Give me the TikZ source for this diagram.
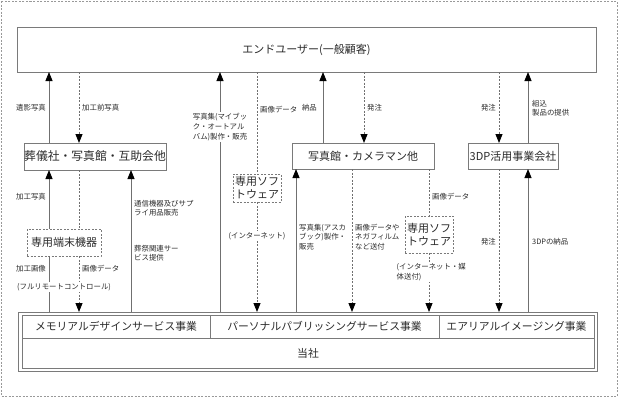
\documentclass[tikz,border=0pt]{standalone}
\usepackage{fontspec}
\setmainfont{Noto Sans CJK JP}
\usetikzlibrary{arrows.meta}
\definecolor{lin}{HTML}{707070}
\definecolor{brd}{HTML}{7A7A7A}
\definecolor{txt}{HTML}{2A2A2A}
\tikzset{
  box/.style={draw=brd, line width=0.9pt, inner sep=0pt, outer sep=0pt, text=txt, align=center},
  dbox/.style={box, dash pattern=on 2pt off 1.5pt},
  sline/.style={draw=lin, line width=0.9pt},
  dline/.style={draw=lin, line width=0.9pt, dash pattern=on 2pt off 1.5pt},
  tip/.style={-{Triangle[length=9pt,width=7pt,color=black]}},
  lab/.style={font=\fontsize{7.4}{9.6}\selectfont, inner sep=1pt, text=txt, align=left},
  wlab/.style={lab, fill=white, inner sep=1.5pt},
  big/.style={font=\fontsize{11.8}{14}\selectfont},
  mid/.style={font=\fontsize{11}{13}\selectfont},
  cell/.style={draw=brd, line width=0.8pt, inner sep=0pt, outer sep=0pt, text=txt, font=\fontsize{10.8}{12}\selectfont}
}
\begin{document}
\begin{tikzpicture}[x=1pt,y=-1pt]
\useasboundingbox (0,0) rectangle (620,397);
\draw[draw=gray!80, line width=0.6pt, dash pattern=on 2pt off 1.5pt] (1,1) rectangle (617,396);

% main nodes
\node[box, mid, minimum width=579pt, minimum height=45pt] (eu) at (306.5,49.5) {エンドユーザー(一般顧客)};
\node[box, big, minimum width=142pt, minimum height=27pt] (sog) at (95,156.5) {葬儀社・写真館・互助会他};
\node[box, mid, minimum width=142pt, minimum height=26pt] (sha) at (363,156) {写真館・カメラマン他};
\node[box, mid, minimum width=90pt, minimum height=26pt] (tdp) at (513,156) {3DP活用事業会社};
\node[dbox, mid, minimum width=74pt, minimum height=27pt] (tan) at (64,242.5) {専用端末機器};
\node[dbox, mid, minimum width=48pt, minimum height=28pt] (sf1) at (257,188) {専用ソフ\\トウェア};
\node[dbox, mid, minimum width=48pt, minimum height=37pt] (sf2) at (429,234.5) {専用ソフ\\トウェア};

% bottom company box
\node[box, minimum width=579pt, minimum height=59pt] (bot) at (307.5,341.5) {};
\node[cell, minimum width=188pt, minimum height=23pt] (m1) at (116,326.5) {メモリアルデザインサービス事業};
\node[cell, minimum width=229pt, minimum height=23pt] (m2) at (324.5,326.5) {パーソナルパブリッシングサービス事業};
\node[cell, minimum width=155pt, minimum height=23pt] (m3) at (516.5,326.5) {エアリアルイメージング事業};
\node[cell, minimum width=572pt, minimum height=30pt] (tosha) at (308,353) {当社};

% column coordinates
\foreach \n/\x in {49/49,79/79,131/131,220/220,257/257,296/296,323/323,352/352,364/364,429/429,499/499,528/528}
  \coordinate (c\n) at (\x,0);

% connectors
\draw[sline, tip] (c49 |- sog.north) -- (c49 |- eu.south);
\draw[dline, tip] (c79 |- eu.south) -- (c79 |- sog.north);
\draw[sline, tip] (c220 |- bot.north) -- (c220 |- eu.south);
\draw[dline] (c257 |- eu.south) -- (c257 |- sf1.north);
\draw[dline, tip] (c257 |- sf1.south) -- (c257 |- bot.north);
\draw[sline, tip] (c323 |- sha.north) -- (c323 |- eu.south);
\draw[dline, tip] (c364 |- eu.south) -- (c364 |- sha.north);
\draw[dline, tip] (c499 |- eu.south) -- (c499 |- tdp.north);
\draw[sline, tip] (c528 |- tdp.north) -- (c528 |- eu.south);
\draw[sline, tip] (c49 |- tan.north) -- (c49 |- sog.south);
\draw[dline] (c79 |- sog.south) -- (c79 |- tan.north);
\draw[sline] (c49 |- bot.north) -- (c49 |- tan.south);
\draw[dline, tip] (c79 |- tan.south) -- (c79 |- bot.north);
\draw[sline, tip] (c131 |- bot.north) -- (c131 |- sog.south);
\draw[sline, tip] (c296 |- bot.north) -- (c296 |- sha.south);
\draw[dline, tip] (c352 |- sha.south) -- (c352 |- bot.north);
\draw[dline] (c429 |- sha.south) -- (c429 |- sf2.north);
\draw[dline, tip] (c429 |- sf2.south) -- (c429 |- bot.north);
\draw[dline, tip] (c499 |- tdp.south) -- (c499 |- bot.north);
\draw[sline, tip] (c528 |- bot.north) -- (c528 |- tdp.south);

% labels
\node[lab, anchor=east] (l1) at (47,108) {遺影写真};
\node[lab, anchor=west] (l2) at (81,108) {加工前写真};
\node[wlab, align=left] (l3) at (220,127) {写真集(マイブッ\\ク・オートアル\\バム)製作・販売};
\node[lab, anchor=west] (l4) at (259,110) {画像データ};
\node[lab, anchor=east] (l5) at (318,108) {納品};
\node[lab, anchor=west] (l6) at (366,108) {発注};
\node[lab, anchor=east] (l7) at (497,108) {発注};
\node[lab, anchor=west] (l8) at (531,108) {組込\\製品の提供};
\node[lab, anchor=east] (l9) at (47,197) {加工写真};
\node[lab, anchor=west] (l10) at (133,208) {通信機器及びサプ\\ライ用品販売};
\node[lab, anchor=west] (l11) at (133,253) {葬祭関連サー\\ビス提供};
\node[lab, anchor=east] (l12) at (47,269) {加工画像};
\node[lab, anchor=west] (l13) at (81,269) {画像データ};
\node[wlab] (l14) at (64,287) {(フルリモートコントロール)};
\node[wlab] (l15) at (257,236) {(インターネット)};
\node[lab, anchor=west] (l16) at (298,237) {写真集(アスカ\\ブック)製作・\\販売};
\node[lab, anchor=west] (l17) at (354,237) {画像データや\\ネガフィルム\\など送付};
\node[lab, anchor=west] (l18) at (431,197) {画像データ};
\node[wlab, anchor=west] (l19) at (395,272) {(インターネット・媒\\体送付)};
\node[lab, anchor=east] (l20) at (497,242) {発注};
\node[lab, anchor=west] (l21) at (531,242) {3DPの納品};
\end{tikzpicture}
\end{document}
